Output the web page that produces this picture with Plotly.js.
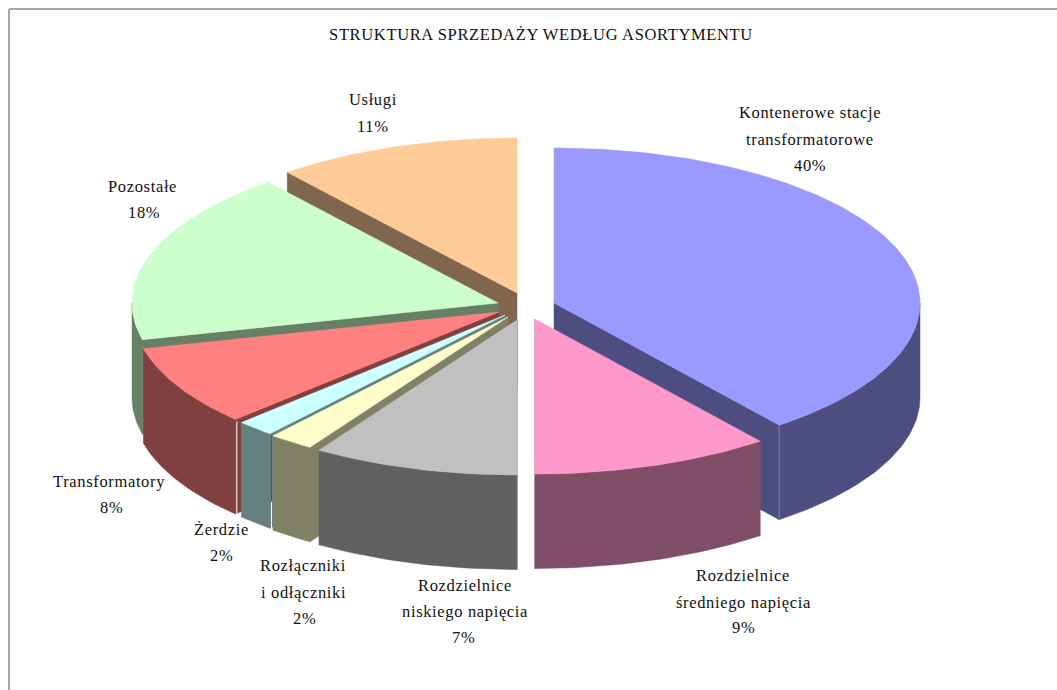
<!DOCTYPE html>
<html><head><meta charset="utf-8">
<script src="https://cdn.plot.ly/plotly-3.0.1.min.js"></script>
<style>html,body{margin:0;padding:0;background:#fff;overflow:hidden}
.annotation-text,.gtitle{letter-spacing:0.65px}</style>
</head><body><div id="chart" style="width:1057px;height:690px"></div>
<script>
// Slice data, clockwise from 12 o'clock
const categories = ['Kontenerowe stacje transformatorowe','Rozdzielnice średniego napięcia','Rozdzielnice niskiego napięcia','Rozłączniki i odłączniki','Żerdzie','Transformatory','Pozostałe','Usługi'];
const shares = [39.45,10.55,9.1,2.0,1.7,8.4,18.0,10.8];
const printedPercent = ['40%','9%','7%','2%','2%','8%','18%','11%'];

// Styles
const topColors  = ['#9999FF','#FF99CC','#C0C0C0','#FFFFCC','#CCFFFF','#FF8080','#CCFFCC','#FFCC99'];
const sideColors = ['#4D4D80','#804D66','#606060','#808066','#668080','#804040','#668066','#80664D'];

// Pie projection
const radiusX = 366, radiusY = 155, depth = 94.5;
const apexX = [554,535,517,508,505,499,498,517];
const apexY = [303,319,320,317,315,312,303,293];
const drawOrder = [7,6,5,4,3,2,0,1];

// Label lines: text and position
const labelText = ['Kontenerowe stacje','transformatorowe',printedPercent[0],'Usługi',printedPercent[7],'Pozostałe',printedPercent[6],'Transformatory',printedPercent[5],'Żerdzie',printedPercent[4],'Rozłączniki','i odłączniki',printedPercent[3],'Rozdzielnice','niskiego napięcia',printedPercent[2],'Rozdzielnice','średniego napięcia',printedPercent[1]];
const labelX = [810,810,810,373,373,142,144,109,111,221,221,303,303,304,465,465,463,743,743,743];
const labelY = [112,139,165,99,126,186,212,481,507,529,555,565,592,618,585,611,637,575,602,627];

const total = shares.reduce((a,b)=>a+b,0);
const starts = []; let acc = 0;
for (const s of shares) { starts.push(acc); acc += s/total*360; }
const rad = d => d*Math.PI/180;
const px = (i,t) => apexX[i] + radiusX*Math.sin(rad(t));
const py = (i,t) => apexY[i] - radiusY*Math.cos(rad(t));

function poly(xs,ys,color){
  return {type:'scatter',mode:'lines',x:xs.concat(xs[0]),y:ys.concat(ys[0]),fill:'toself',fillcolor:color,
    line:{color:color,width:0.5},hoverinfo:'skip',showlegend:false};
}
function seam(x,y0,y1,color){
  return {type:'scatter',mode:'lines',x:[x,x],y:[y0,y1],line:{color:color,width:1},hoverinfo:'skip',showlegend:false};
}
const traces = [];
for (const i of drawOrder) {
  const t0 = starts[i], t1 = t0 + shares[i]/total*360;
  for (const t of [t0,t1]) {
    const front = (t1<=180 && t===t1) || (t0>=180 && t===t0);
    if (!front) continue;
    const ex = px(i,t), ey = py(i,t);
    traces.push(poly([apexX[i],ex,ex,apexX[i]],[apexY[i],ey,ey+depth,apexY[i]+depth],sideColors[i]));
  }
  const a = Math.max(t0,90), b = Math.min(t1,270);
  if (b>a) {
    const wx=[],wy=[];
    for (let t=a;t<b;t+=1){wx.push(px(i,t));wy.push(py(i,t));}
    wx.push(px(i,b));wy.push(py(i,b));
    for (let k=wx.length-1;k>=0;k--){wx.push(wx[k]);wy.push(wy[k]+depth);}
    traces.push(poly(wx,wy,sideColors[i]));
  }
  const tx=[apexX[i]],ty=[apexY[i]];
  for (let t=t0;t<t1;t+=1){tx.push(px(i,t));ty.push(py(i,t));}
  tx.push(px(i,t1));ty.push(py(i,t1));
  traces.push(poly(tx,ty,topColors[i]));
}
// thin seams between the wall faces
const redLow = starts[5], cyanLow = starts[4], blueEnd = starts[1];
traces.push(seam(px(5,redLow)+1.5,py(5,redLow)+2,py(5,redLow)+depth,'#FFFFFF'));
traces.push(seam(px(4,cyanLow)+1.5,py(4,cyanLow)+1,py(4,cyanLow)+68,'#804040'));
traces.push(seam(px(4,cyanLow)+1.5,py(4,cyanLow)+68,py(4,cyanLow)+depth,'#FFFFFF'));
traces.push(seam(px(0,blueEnd),py(0,blueEnd),py(0,blueEnd)+depth,'#8080A8'));

const fontFamily = '"Liberation Serif","Times New Roman",serif';
const annotations = labelText.map((s,k)=>({text:s,x:labelX[k],y:labelY[k],xref:'x',yref:'y',showarrow:false,
  xanchor:'center',yanchor:'middle',font:{family:fontFamily,size:16.5,color:'#111'}}));

const layout = {
  width:1057,height:690,margin:{l:0,r:0,t:0,b:0},paper_bgcolor:'#fff',plot_bgcolor:'#fff',showlegend:false,
  title:{text:'STRUKTURA SPRZEDAŻY WEDŁUG ASORTYMENTU',x:541/1057,xref:'paper',xanchor:'center',y:1-34/690,yref:'paper',yanchor:'middle',
    font:{family:fontFamily,size:16.5,color:'#111'}},
  xaxis:{range:[0,1057],visible:false,fixedrange:true},
  yaxis:{range:[690,0],visible:false,fixedrange:true},
  annotations,
  shapes:[
    {type:'line',xref:'paper',yref:'paper',x0:9/1057,x1:9/1057,y0:0,y1:1-9/690,line:{color:'#A6A6A6',width:2}},
    {type:'line',xref:'paper',yref:'paper',x0:9/1057,x1:1,y0:1-9/690,y1:1-9/690,line:{color:'#A6A6A6',width:2}}
  ]
};
Plotly.newPlot('chart',traces,layout,{displayModeBar:false,staticPlot:true});
</script></body></html>
